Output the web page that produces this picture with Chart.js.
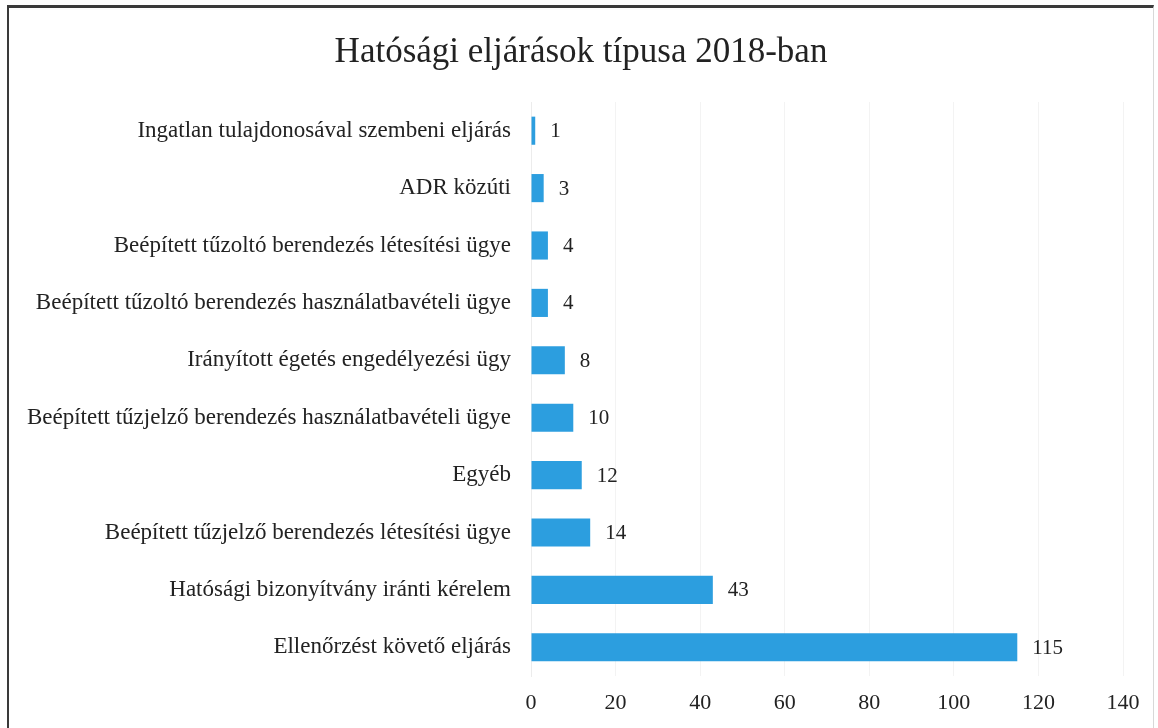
<!DOCTYPE html>
<html>
<head>
<meta charset="utf-8">
<script src="https://cdn.jsdelivr.net/npm/chart.js@4.4.0/dist/chart.umd.min.js"></script>
<style>
html,body{margin:0;padding:0;background:#fff;}
#wrap{position:absolute;left:0;top:0;width:1158px;height:728px;overflow:hidden;}
#frame{position:absolute;left:7px;top:5px;width:1147px;height:740px;border-top:3px solid #3a3a3a;border-left:2px solid #3a3a3a;border-right:1px solid #d8d8d8;box-sizing:border-box;}
canvas{position:absolute;left:0;top:0;}
</style>
</head>
<body>
<div id="wrap">
<div id="frame"></div>
<canvas id="c" width="1158" height="728"></canvas>
</div>
<script>
const chartTitle = "Hatósági eljárások típusa 2018-ban";
const categories = [
  "Ingatlan tulajdonosával szembeni eljárás",
  "ADR közúti",
  "Beépített tűzoltó berendezés létesítési ügye",
  "Beépített tűzoltó berendezés használatbavételi ügye",
  "Irányított égetés engedélyezési ügy",
  "Beépített tűzjelző berendezés használatbavételi ügye",
  "Egyéb",
  "Beépített tűzjelző berendezés létesítési ügye",
  "Hatósági bizonyítvány iránti kérelem",
  "Ellenőrzést követő eljárás"
];
const values = [1, 3, 4, 4, 8, 10, 12, 14, 43, 115];
const xMin = 0, xMax = 140, xStep = 20;

const FONT = "'Liberation Serif', 'Times New Roman', serif";

const valueLabels = {
  id: 'valueLabels',
  afterDatasetsDraw(chart) {
    const ctx = chart.ctx;
    const meta = chart.getDatasetMeta(0);
    ctx.save();
    ctx.font = "21px " + FONT;
    ctx.fillStyle = "#222222";
    ctx.textAlign = "left";
    ctx.textBaseline = "middle";
    meta.data.forEach((bar, i) => {
      ctx.fillText(String(values[i]), bar.x + 15, bar.y + 1);
    });
    ctx.restore();
  }
};

// centre the title over the whole frame rather than the padded box
const titleCentre = {
  id: 'titleCentre',
  afterLayout(chart) {
    if (chart.titleBlock) {
      chart.titleBlock.left = 0;
      chart.titleBlock.right = 1162;
    }
  }
};

new Chart(document.getElementById('c'), {
  type: 'bar',
  data: {
    labels: categories,
    datasets: [{
      data: values,
      backgroundColor: '#2C9EDF',
      borderWidth: 0,
      categoryPercentage: 1,
      barPercentage: 0.49
    }]
  },
  plugins: [valueLabels, titleCentre],
  options: {
    indexAxis: 'y',
    responsive: false,
    animation: false,
    devicePixelRatio: 1,
    layout: { padding: { left: 0, right: 35, top: 0, bottom: 0 } },
    plugins: {
      legend: { display: false },
      tooltip: { enabled: false },
      title: {
        display: true,
        text: chartTitle,
        color: '#222222',
        font: { family: FONT, size: 35, weight: 'normal', lineHeight: 1.2 },
        padding: { top: 32, bottom: 28 }
      }
    },
    scales: {
      x: {
        min: xMin, max: xMax,
        ticks: { stepSize: xStep, color: '#222222', font: { family: FONT, size: 22 }, padding: 14 },
        grid: { color: '#f3f3f3', drawTicks: false },
        border: { display: false },
        afterFit(scale) { scale.height = 52; }
      },
      y: {
        ticks: { color: '#222222', font: { family: FONT, size: 23 }, padding: 20 },
        grid: { display: false, drawTicks: false },
        border: { display: true, color: '#ececec' },
        afterFit(scale) { scale.width = 531; }
      }
    }
  }
});
</script>
</body>
</html>
